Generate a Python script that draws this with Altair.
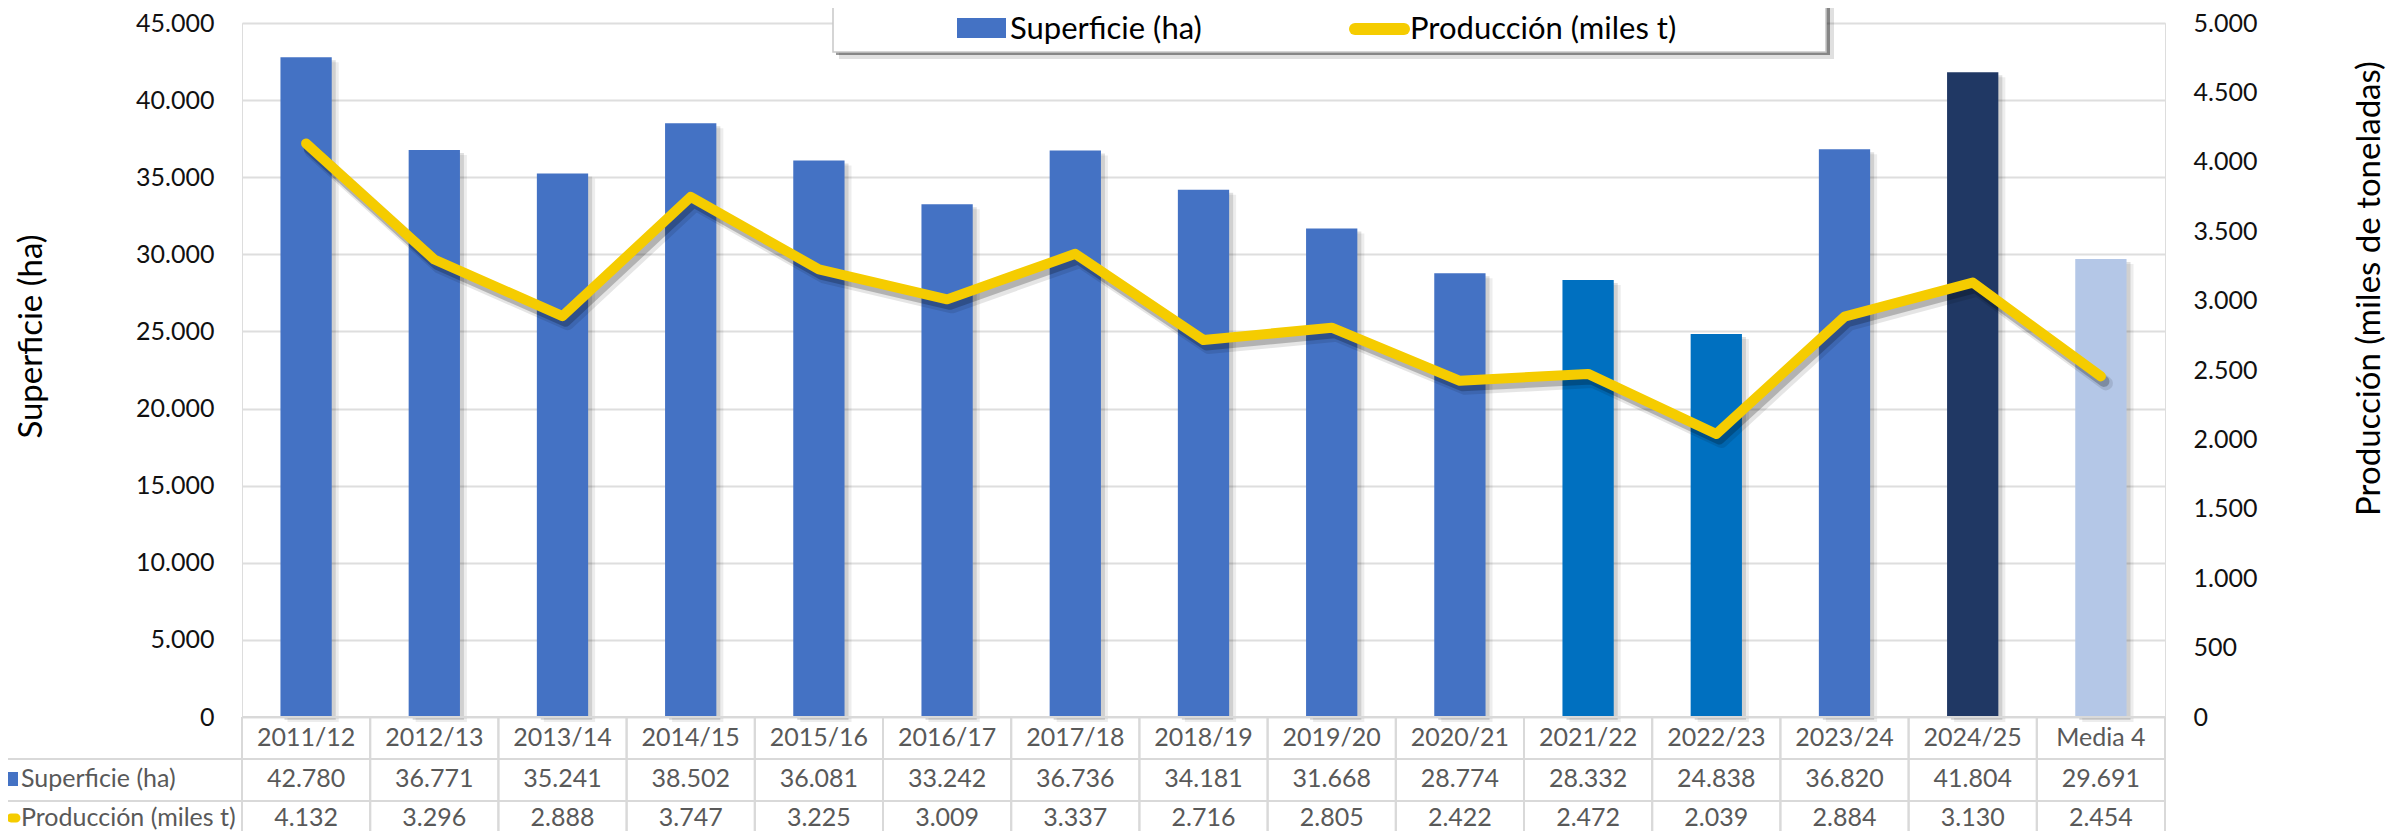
import altair as alt
import pandas as pd

# ---- data ----
categories = ["2011/12", "2012/13", "2013/14", "2014/15", "2015/16", "2016/17", "2017/18",
              "2018/19", "2019/20", "2020/21", "2021/22", "2022/23", "2023/24", "2024/25", "Media 4"]
superficie = [42780, 36771, 35241, 38502, 36081, 33242, 36736, 34181, 31668, 28774,
              28332, 24838, 36820, 41804, 29691]
produccion = [4132, 3296, 2888, 3747, 3225, 3009, 3337, 2716, 2805, 2422,
              2472, 2039, 2884, 3130, 2454]
series_names = ["Superficie (ha)", "Producción (miles t)"]
y_left_title = "Superficie (ha)"
y_right_title = "Producción (miles de toneladas)"
left_ticks = [0, 5000, 10000, 15000, 20000, 25000, 30000, 35000, 40000, 45000]
right_ticks = [0, 500, 1000, 1500, 2000, 2500, 3000, 3500, 4000, 4500, 5000]

# ---- styles ----
bar_colors = ["#4472C4"] * 10 + ["#0070C0", "#0070C0", "#4472C4", "#203864", "#B4C7E7"]
line_color = "#F5CC00"
FONT = "Lato"
W, H = 1923, 694

df = pd.DataFrame({"cat": categories, "sup": superficie, "prod": produccion})
one = pd.DataFrame({"k": [0]})

xscale = alt.Scale(domain=categories, paddingInner=0, paddingOuter=0)
X = alt.X("cat:N", scale=xscale, axis=None)
ysup = alt.Scale(domain=[0, 45000], nice=False, zero=True)
yprod = alt.Scale(domain=[0, 5000], nice=False, zero=True)

base = alt.Chart(df)

bar_shadow1 = base.mark_bar(width=alt.RelativeBandSize(0.4), xOffset=4, yOffset=3,
                            color="#000000", opacity=0.12).encode(
    x=X, y=alt.Y("sup:Q", scale=ysup, axis=None))
bar_shadow2 = base.mark_bar(width=alt.RelativeBandSize(0.4), xOffset=7, yOffset=5,
                            color="#000000", opacity=0.07).encode(
    x=X, y=alt.Y("sup:Q", scale=ysup, axis=None))

bars = base.mark_bar(width=alt.RelativeBandSize(0.4)).encode(
    x=X,
    y=alt.Y("sup:Q", scale=ysup,
            axis=alt.Axis(title=y_left_title, orient="left", values=left_ticks, format=",d",
                          domain=False, ticks=False, labelPadding=28, labelFontSize=25,
                          labelFont=FONT, labelColor="#111111", grid=True,
                          gridColor="#dedede", gridWidth=2,
                          titleFont=FONT, titleFontSize=33, titleFontWeight="normal",
                          titleColor="#000000", titleAngle=270, titleX=-211, titleY=313,
                          titleAlign="center", titleBaseline="middle")),
    color=alt.Color("cat:N", scale=alt.Scale(domain=categories, range=bar_colors), legend=None),
)

line_shadow2 = base.mark_line(strokeWidth=14, strokeCap="round", strokeJoin="round",
                              color="#000000", opacity=0.10, xOffset=5, yOffset=7).encode(
    x=X, y=alt.Y("prod:Q", scale=yprod, axis=None))
line_shadow = base.mark_line(strokeWidth=11, strokeCap="round", strokeJoin="round",
                             color="#000000", opacity=0.22, xOffset=3, yOffset=5).encode(
    x=X, y=alt.Y("prod:Q", scale=yprod, axis=None))

line = base.mark_line(strokeWidth=10, strokeCap="round", strokeJoin="round",
                      color=line_color).encode(
    x=X,
    y=alt.Y("prod:Q", scale=yprod,
            axis=alt.Axis(title=y_right_title, orient="right", values=right_ticks, format=",d",
                          domain=False, ticks=False, labelPadding=28, labelFontSize=25,
                          labelFont=FONT, labelColor="#111111", grid=False,
                          titleFont=FONT, titleFontSize=33, titleFontWeight="normal",
                          titleColor="#000000", titleAngle=270, titleX=204, titleY=265,
                          titleAlign="center", titleBaseline="middle")),
)

# ---- data table below the plot ----
grid_c = "#d9d9d9"
hline_top = alt.Chart(one).mark_rule(color=grid_c, strokeWidth=2).encode(
    x=alt.value(0), x2=alt.value(W), y=alt.value(H))
hlines = alt.Chart(pd.DataFrame({"yy": [736, 778]})).mark_rule(color=grid_c, strokeWidth=2).encode(
    x=alt.value(-234), x2=alt.value(W), y=alt.Y("yy:Q", scale=None))
vlines_l = base.mark_rule(color=grid_c, strokeWidth=2).encode(
    x=alt.X("cat:N", scale=xscale, axis=None, bandPosition=0), y=alt.value(H), y2=alt.value(840))
vlines_r = base.mark_rule(color=grid_c, strokeWidth=2).encode(
    x=alt.X("cat:N", scale=xscale, axis=None, bandPosition=1), y=alt.value(H), y2=alt.value(840))

tstyle = dict(font=FONT, fontSize=25, color="#595959", baseline="middle", align="center")
t_cat = base.mark_text(**tstyle).encode(x=X, y=alt.value(715), text="cat:N")
t_sup = base.mark_text(**tstyle).encode(x=X, y=alt.value(756), text=alt.Text("sup:Q", format=",d"))
t_prod = base.mark_text(**tstyle).encode(x=X, y=alt.value(795), text=alt.Text("prod:Q", format=",d"))

row_df = pd.DataFrame({"name": series_names, "yy": [756, 795]})
row_labels = alt.Chart(row_df).mark_text(font=FONT, fontSize=25, color="#595959",
                                         baseline="middle", align="left").encode(
    x=alt.value(-221), y=alt.Y("yy:Q", scale=None), text="name:N")
row_sq = alt.Chart(one).mark_rect(color="#4472C4").encode(
    x=alt.value(-234), x2=alt.value(-224), y=alt.value(749), y2=alt.value(763))
row_ln = alt.Chart(one).mark_rule(color=line_color, strokeWidth=9, strokeCap="round").encode(
    x=alt.value(-231), x2=alt.value(-226), y=alt.value(795))

# ---- custom legend box at top ----
lg_sh2 = alt.Chart(one).mark_rect(color="#000000", opacity=0.12).encode(
    x=alt.value(597), x2=alt.value(1592), y=alt.value(-40), y2=alt.value(36))
lg_sh1 = alt.Chart(one).mark_rect(color="#000000", opacity=0.4).encode(
    x=alt.value(594), x2=alt.value(1588), y=alt.value(-40), y2=alt.value(32))
lg_box = alt.Chart(one).mark_rect(fill="#ffffff", stroke="#c8c8c8", strokeWidth=1.5).encode(
    x=alt.value(591), x2=alt.value(1584), y=alt.value(-40), y2=alt.value(29))
lg_sq = alt.Chart(one).mark_rect(color="#4472C4").encode(
    x=alt.value(715), x2=alt.value(764), y=alt.value(-5), y2=alt.value(15))
lg_ln = alt.Chart(one).mark_rule(color=line_color, strokeWidth=12, strokeCap="round").encode(
    x=alt.value(1113), x2=alt.value(1162), y=alt.value(6))
lg_df = pd.DataFrame({"name": series_names, "xx": [768, 1168]})
lg_txt = alt.Chart(lg_df).mark_text(font=FONT, fontSize=31, color="#000000",
                                    baseline="middle", align="left").encode(
    x=alt.X("xx:Q", scale=None), y=alt.value(7), text="name:N")

chart = alt.layer(
    bar_shadow2, bar_shadow1, bars, line_shadow2, line_shadow, line,
    hline_top, hlines, vlines_l, vlines_r, t_cat, t_sup, t_prod,
    row_labels, row_sq, row_ln,
    lg_sh2, lg_sh1, lg_box, lg_sq, lg_ln, lg_txt,
).resolve_scale(y="independent", color="independent").properties(
    width=W, height=H,
    autosize=alt.AutoSizeParams(type="none"),
    padding={"left": 234, "top": 15, "right": 229, "bottom": 114},
    background="#ffffff",
).configure_view(stroke=None).configure(
    locale={"number": {"decimal": ",", "thousands": ".", "grouping": [3], "currency": ["", " €"]}}
)

chart.save("out.html", embed_options={"renderer": "svg", "actions": False})
